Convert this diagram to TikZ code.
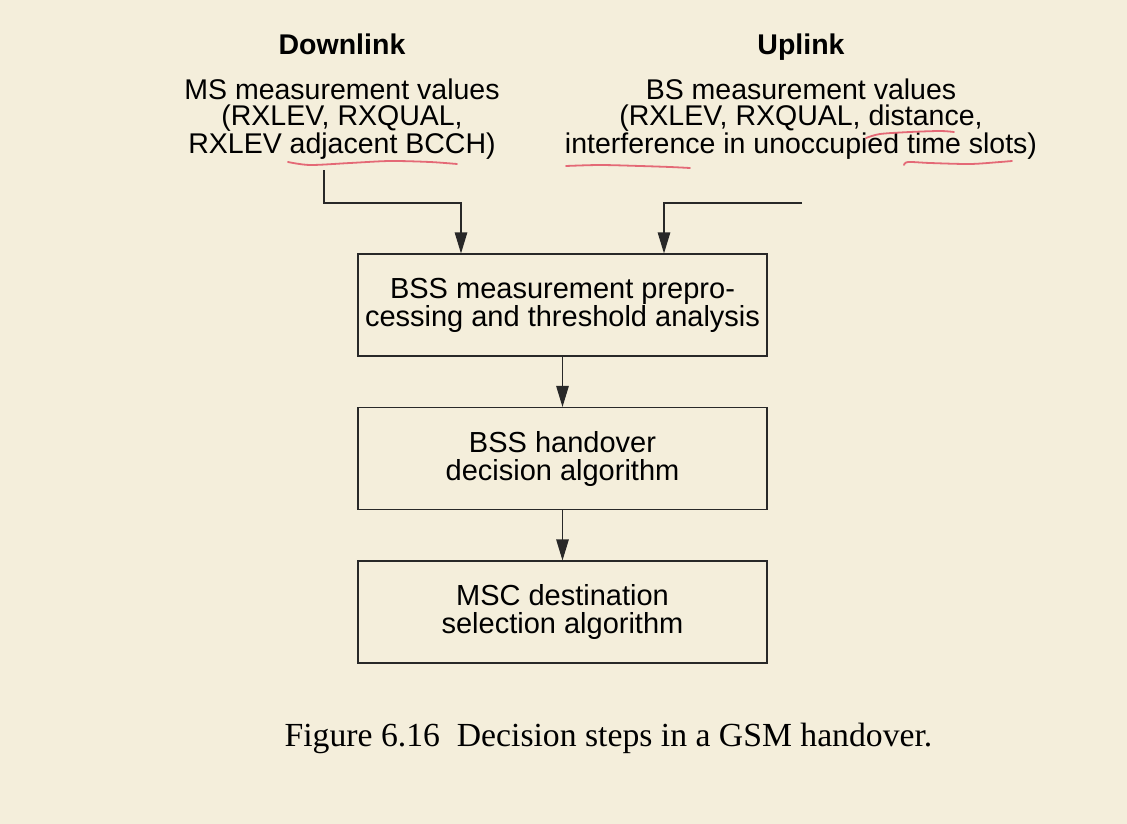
\documentclass[tikz,border=0pt]{standalone}
\usepackage{fontspec}
\setmainfont{Liberation Sans}
\newfontfamily\capfont{Liberation Serif}
\usetikzlibrary{arrows.meta}
\definecolor{bgc}{RGB}{244,238,219}
\definecolor{linec}{RGB}{40,40,40}
\definecolor{redpen}{RGB}{228,105,118}
\begin{document}
\begin{tikzpicture}[x=1pt,y=-1pt,
  lbl/.style={inner sep=0pt,align=center,font=\fontsize{28.5}{26.5}\selectfont},
  hdr/.style={inner sep=0pt,font=\fontsize{28.5}{26.5}\selectfont\bfseries},
  stepbox/.style={draw=linec,line width=1.1pt,fill=bgc,minimum width=409pt,minimum height=102pt,inner sep=0pt,align=center,font=\fontsize{29}{28}\selectfont},
  conn/.style={draw=linec,line width=1.1pt},
  arr/.style={conn,-{Triangle[length=21pt,width=12.5pt]}},
  pen/.style={draw=redpen,line width=1.8pt,line cap=round}]
\fill[bgc] (0,0) rectangle (1127,824);
\useasboundingbox (0,0) rectangle (1127,824);
% headers
\node[hdr,anchor=base] (dlh) at (342,55) {Downlink};
\node[hdr,anchor=base] (ulh) at (801,55) {Uplink};
% measurement texts
\node[lbl,anchor=base] (ms) at (342,153.5) {MS measurement values\\(RXLEV, RXQUAL,\\RXLEV adjacent BCCH)};
\node[lbl,anchor=base] (bs) at (801,153.5) {BS measurement values\\(RXLEV, RXQUAL, distance,\\interference in unoccupied time slots)};
% boxes
\node[stepbox] (b1) at (562.5,305) {\raisebox{-2pt}{BSS measurement prepro-}\\\raisebox{-2pt}{cessing and threshold analysis}};
\node[stepbox] (b2) at (562.5,458.5) {BSS handover\\decision algorithm};
\node[stepbox] (b3) at (562.5,612) {MSC destination\\selection algorithm};
% connectors
\coordinate (dlA) at (324,170);
\coordinate (dlB) at (461,203);
\coordinate (ulA) at (802,203);
\coordinate (ulB) at (664,203);
\draw[arr] (dlA) |- (dlB) -- (dlB |- b1.north);
\draw[arr] (ulA) -- (ulB) -- (ulB |- b1.north);
\draw[arr] (b1) -- (b2);
\draw[arr] (b2) -- (b3);
% red pen underlines
\draw[pen] plot[smooth] coordinates {(288,162) (310,165) (350,163) (390,161) (430,162) (457,164)};
\draw[pen] plot[smooth] coordinates {(866,138) (880,134) (910,132) (940,131) (954,132)};
\draw[pen] plot[smooth] coordinates {(566,166) (600,165) (640,166) (670,167) (690,168)};
\draw[pen] plot[smooth] coordinates {(904,165) (908,162) (930,163) (970,164) (1000,162) (1012,161)};
% caption
\node[inner sep=0pt,anchor=base,font=\capfont\fontsize{33.7}{35}\selectfont] (cap) at (608.5,746) {Figure 6.16\hspace{0.5em}Decision steps in a GSM handover.};
\end{tikzpicture}
\end{document}
